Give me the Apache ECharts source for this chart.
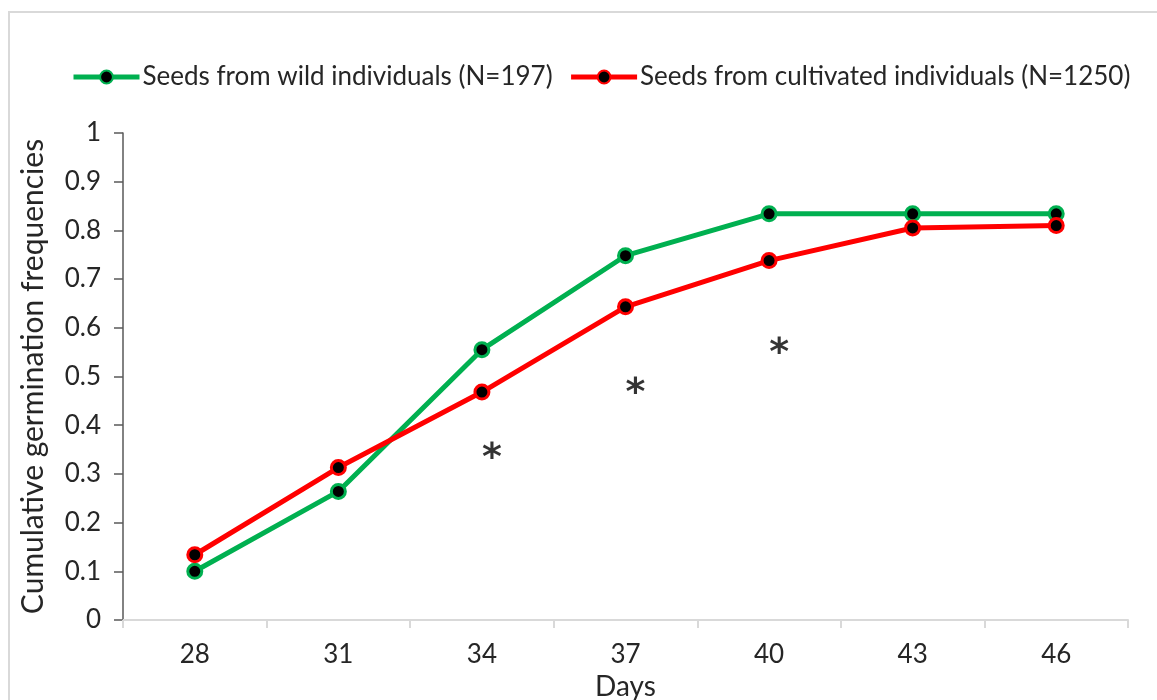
<!DOCTYPE html>
<html>
<head>
<meta charset="utf-8">
<script src="https://cdn.jsdelivr.net/npm/echarts@6/dist/echarts.min.js"></script>
<style>
  html, body { margin: 0; padding: 0; background: #fff; }
  #chart { width: 1157px; height: 700px; }
</style>
</head>
<body>
<div id="chart"></div>
<script>
  // values
  const days = ['28', '31', '34', '37', '40', '43', '46'];
  const wildSeeds = [0.10, 0.264, 0.555, 0.748, 0.834, 0.834, 0.834];
  const cultivatedSeeds = [0.134, 0.313, 0.468, 0.643, 0.738, 0.805, 0.81];
  // significance marks (*) : [day, height]
  const starMarks = [['34', 0.35], ['37', 0.485], ['40', 0.567]];
  const yTicks = [0, 0.1, 0.2, 0.3, 0.4, 0.5, 0.6, 0.7, 0.8, 0.9, 1];

  const font = 'Lato';
  const chart = echarts.init(document.getElementById('chart'));

  const lineSeries = (name, data, color) => ({
    name: name,
    type: 'line',
    data: data,
    symbol: 'circle',
    symbolSize: 14,
    lineStyle: { color: color, width: 5 },
    itemStyle: { color: '#000', borderColor: color, borderWidth: 3 },
    emphasis: { disabled: true },
    z: 3
  });

  const option = {
    animation: false,
    backgroundColor: '#fff',
    graphic: [{
      type: 'rect',
      shape: { x: 9, y: 12, width: 1200, height: 750 },
      style: { fill: null, stroke: '#d9d9d9', lineWidth: 2 },
      silent: true
    }],
    legend: {
      left: 66,
      top: 59,
      width: 1090,
      itemWidth: 66,
      itemHeight: 16,
      itemGap: 16,
      lineStyle: { width: 5 },
      textStyle: { fontFamily: font, fontSize: 26, color: '#262626', padding: [0, 0, 0, -2] },
      data: ['Seeds from wild individuals (N=197)', 'Seeds from cultivated individuals (N=1250)']
    },
    grid: { left: 123, right: 29, top: 133, bottom: 80, outerBoundsMode: 'none' },
    xAxis: {
      type: 'category',
      data: days,
      boundaryGap: true,
      name: 'Days',
      nameLocation: 'middle',
      nameGap: 47,
      nameTextStyle: { fontFamily: font, fontSize: 28, color: '#262626' },
      axisLine: { lineStyle: { color: '#d9d9d9', width: 2 } },
      axisTick: { show: true, length: 8, lineStyle: { color: '#d9d9d9', width: 2 } },
      axisLabel: { fontFamily: font, fontSize: 26, color: '#262626', margin: 22 },
      splitLine: { show: false }
    },
    yAxis: {
      type: 'value',
      min: 0,
      max: 1,
      interval: 0.1,
      name: 'Cumulative germination frequencies',
      nameLocation: 'middle',
      nameGap: 75,
      nameRotate: 90,
      nameTextStyle: { fontFamily: font, fontSize: 30, color: '#262626' },
      axisLine: { show: true, lineStyle: { color: '#595959', width: 1.5 } },
      axisTick: { show: true, length: 9, lineStyle: { color: '#595959', width: 1.5 } },
      axisLabel: {
        fontFamily: font, fontSize: 26, color: '#262626', margin: 22,
        formatter: v => String(yTicks.find(t => Math.abs(t - v) < 1e-6) ?? v)
      },
      splitLine: { show: false }
    },
    series: [
      lineSeries('Seeds from wild individuals (N=197)', wildSeeds, '#00b050'),
      lineSeries('Seeds from cultivated individuals (N=1250)', cultivatedSeeds, '#ff0000'),
      {
        name: 'stars',
        type: 'scatter',
        data: starMarks,
        symbolSize: 1,
        itemStyle: { color: 'rgba(0,0,0,0)' },
        label: {
          show: true,
          position: 'inside',
          formatter: '*',
          offset: [10, 10],
          fontFamily: 'DejaVu Sans',
          fontWeight: 'bold',
          fontSize: 38,
          color: '#000'
        },
        silent: true,
        z: 4
      }
    ]
  };

  chart.setOption(option);
</script>
</body>
</html>
